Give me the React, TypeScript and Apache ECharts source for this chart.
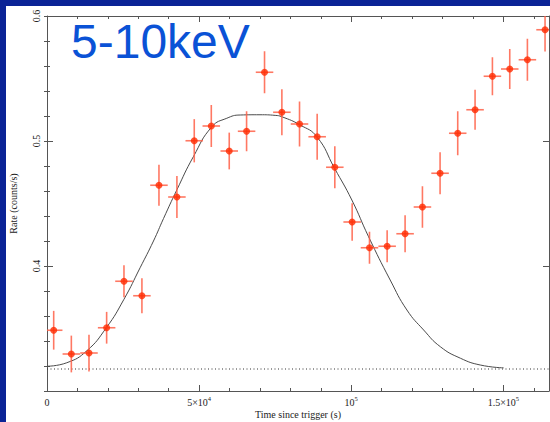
import React, { useEffect, useRef } from "react";
import * as echarts from "echarts";

// Light-curve bins (time since trigger, s) and measured rate (counts/s)
const times = [2200, 8000, 13800, 19600, 25300, 31200, 36800, 42700, 48400, 54000, 59900, 65600, 71500, 77200, 83000, 88800, 94600, 100300, 106000, 111800, 117700, 123400, 129200, 135000, 140700, 146400, 152100, 157900, 163700];
const rates = [0.3486, 0.3296, 0.3304, 0.3506, 0.3878, 0.3762, 0.4646, 0.4552, 0.5002, 0.512, 0.492, 0.5078, 0.555, 0.523, 0.5136, 0.5034, 0.479, 0.4352, 0.4146, 0.4158, 0.4258, 0.4472, 0.4742, 0.5062, 0.525, 0.5518, 0.5576, 0.565, 0.589];
const rateErrors = [0.0155, 0.0147, 0.0147, 0.0127, 0.0128, 0.014, 0.0164, 0.0168, 0.0173, 0.0168, 0.0147, 0.016, 0.0168, 0.0184, 0.018, 0.0184, 0.0168, 0.015, 0.0128, 0.0128, 0.0148, 0.0166, 0.0168, 0.0176, 0.016, 0.0152, 0.016, 0.0168, 0.0174];
const timeHalfWidth = 2880;

// Model curve
const modelTimes = [0, 6500, 13000, 19500, 25300, 30600, 35000, 38300, 42700, 48100, 54200, 59100, 63500, 70000, 75000, 77200, 83200, 88700, 94500, 100200, 105700, 112800, 118300, 123800, 129300, 135900, 142400, 150100];
const modelRates = [0.3198, 0.3226, 0.332, 0.3506, 0.3734, 0.3986, 0.42, 0.438, 0.461, 0.4874, 0.5114, 0.5182, 0.5208, 0.521, 0.5205, 0.5194, 0.5128, 0.5034, 0.4782, 0.4528, 0.4234, 0.3888, 0.3648, 0.3488, 0.3354, 0.3262, 0.3208, 0.3185];

const baselineRate = 0.3176;

const xMin = 0;
const xMax = 165000;
const yMin = 0.3;
const yMax = 0.6;

const xLabelValues = [0, 50000, 100000, 150000];
const xLabelMantissas = ["0", "5×10", "10", "1.5×10"];
const xLabelExponents = ["", "4", "5", "5"];
const yLabelValues = [0.4, 0.5, 0.6];

const titleText = "5-10keV";
const xName = "Time since trigger (s)";
const yName = "Rate (counts/s)";

const axisColor = "#555";
const serif = "'Liberation Serif', 'DejaVu Serif', serif";

export default function App() {
  const ref = useRef<HTMLDivElement>(null);

  useEffect(() => {
    if (!ref.current) return;
    const chart = echarts.init(ref.current, undefined, { renderer: "svg" });

    const tickStyle = { color: axisColor, width: 1 };
    const baseAxis = {
      type: "value" as const,
      splitLine: { show: false },
      axisLine: { show: false, lineStyle: tickStyle },
      axisLabel: { show: false },
    };

    const xAxes = [
      {
        ...baseAxis,
        position: "bottom",
        min: xMin,
        max: xMax,
        interval: 50000,
        axisLine: { show: true, onZero: false, lineStyle: tickStyle },
        axisTick: { show: true, inside: true, length: 6, lineStyle: tickStyle },
        name: xName,
        nameLocation: "middle",
        nameGap: 18,
        nameMoveOverlap: false,
        nameTextStyle: { fontFamily: serif, fontSize: 10, color: "#222" },
        axisLabel: {
          show: true,
          margin: 4,
          fontFamily: serif,
          fontSize: 10,
          color: "#222",
          formatter: (v: number) => {
            const i = xLabelValues.findIndex((x) => Math.abs(x - v) < 1);
            if (i < 0) return "";
            const e = xLabelExponents[i];
            return e ? `{m|${xLabelMantissas[i]}}{s|${e}}` : `{m|${xLabelMantissas[i]}}`;
          },
          rich: {
            m: { fontFamily: serif, fontSize: 10, color: "#222", lineHeight: 12, verticalAlign: "bottom" },
            s: { fontFamily: serif, fontSize: 6.5, color: "#222", lineHeight: 8, verticalAlign: "top" },
          },
        },
      },
      {
        ...baseAxis,
        position: "bottom",
        min: xMin,
        max: xMax,
        interval: 10000,
        axisTick: { show: true, inside: true, length: 3, lineStyle: tickStyle },
      },
      {
        ...baseAxis,
        position: "top",
        min: xMin,
        max: xMax,
        interval: 50000,
        axisLine: { show: true, onZero: false, lineStyle: tickStyle },
        axisTick: { show: true, inside: true, length: 6, lineStyle: tickStyle },
      },
      {
        ...baseAxis,
        position: "top",
        min: xMin,
        max: xMax,
        interval: 10000,
        axisTick: { show: true, inside: true, length: 3, lineStyle: tickStyle },
      },
    ];

    const yAxes = [
      {
        ...baseAxis,
        position: "left",
        min: yMin,
        max: yMax,
        interval: 0.1,
        axisLine: { show: true, onZero: false, lineStyle: tickStyle },
        axisTick: { show: true, inside: true, length: 6, lineStyle: tickStyle },
        name: yName,
        nameLocation: "middle",
        nameGap: 29,
        nameMoveOverlap: false,
        nameTextStyle: { fontFamily: serif, fontSize: 10, color: "#222" },
        axisLabel: {
          show: true,
          rotate: 90,
          margin: 6,
          fontFamily: serif,
          fontSize: 10,
          color: "#222",
          formatter: (v: number) =>
            yLabelValues.some((y) => Math.abs(y - v) < 1e-6) ? v.toFixed(1) : "",
        },
      },
      {
        ...baseAxis,
        position: "left",
        min: yMin,
        max: yMax,
        interval: 0.02,
        axisTick: { show: true, inside: true, length: 3, lineStyle: tickStyle },
      },
      {
        ...baseAxis,
        position: "right",
        min: yMin,
        max: yMax,
        interval: 0.1,
        axisLine: { show: true, onZero: false, lineStyle: tickStyle },
        axisTick: { show: true, inside: true, length: 6, lineStyle: tickStyle },
      },
      {
        ...baseAxis,
        position: "right",
        min: yMin,
        max: yMax,
        interval: 0.02,
        axisTick: { show: true, inside: true, length: 3, lineStyle: tickStyle },
      },
    ];

    const points = times.map((t, i) => [t, rates[i], rateErrors[i]]);

    chart.setOption({
      animation: false,
      backgroundColor: "transparent",
      title: {
        text: titleText,
        left: 71,
        top: 17,
        padding: 0,
        textStyle: {
          fontFamily: "'Liberation Sans', Arial, sans-serif",
          fontSize: 48,
          fontWeight: "normal",
          color: "#0a52d6",
        },
      },
      grid: { left: 47, top: 16, width: 502, height: 375, containLabel: false, outerBoundsMode: "none" },
      xAxis: xAxes,
      yAxis: yAxes,
      series: [
        {
          type: "line",
          data: [
            [xMin, baselineRate],
            [xMax, baselineRate],
          ],
          symbol: "none",
          lineStyle: { color: "#333", width: 1, type: [1, 2.5] },
          z: 2,
        },
        {
          type: "line",
          data: modelTimes.map((t, i) => [t, modelRates[i]]),
          symbol: "none",
          smooth: 0.5,
          lineStyle: { color: "#4a4a4a", width: 1 },
          z: 3,
        },
        {
          type: "custom",
          data: points,
          encode: { x: 0, y: 1 },
          clip: true,
          z: 4,
          renderItem: (_params: any, api: any) => {
            const t = api.value(0);
            const v = api.value(1);
            const e = api.value(2);
            const l = api.coord([t - timeHalfWidth, v]);
            const r = api.coord([t + timeHalfWidth, v]);
            const top = api.coord([t, v + e]);
            const bot = api.coord([t, v - e]);
            const style = { stroke: "#ff6048", lineWidth: 1.6, opacity: 0.85 };
            return {
              type: "group",
              children: [
                { type: "line", shape: { x1: l[0], y1: l[1], x2: r[0], y2: r[1] }, style },
                { type: "line", shape: { x1: top[0], y1: top[1], x2: bot[0], y2: bot[1] }, style },
              ],
            };
          },
        },
        {
          type: "scatter",
          data: points.map((p) => [p[0], p[1]]),
          symbol: "circle",
          symbolSize: 7,
          itemStyle: { color: "#ff2a00" },
          z: 5,
        },
      ],
    });

    return () => chart.dispose();
  }, []);

  return (
    <div style={{ position: "fixed", left: 0, top: 0, width: 550, height: 422, background: "#0b2396", overflow: "hidden" }}>
      <div style={{ position: "absolute", left: 6, top: 6, right: 0, bottom: 0, background: "#ffffff" }} />
      <div ref={ref} style={{ position: "absolute", left: 0, top: 0, width: 550, height: 422 }} />
    </div>
  );
}
